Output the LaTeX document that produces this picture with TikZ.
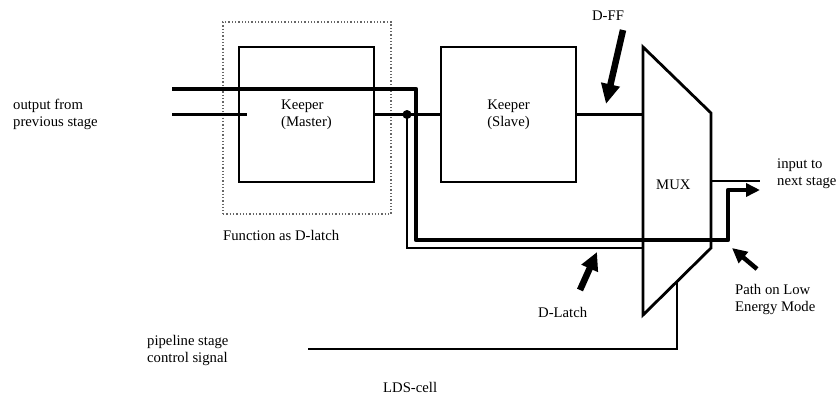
\documentclass[tikz,border=0pt]{standalone}
\usepackage{fontspec}
\setmainfont{Liberation Serif}
\usetikzlibrary{positioning, arrows.meta, calc}

\begin{document}
\begin{tikzpicture}[x=1pt, y=-1pt,
    every node/.style={font=\fontsize{14.7}{17}\selectfont, inner sep=0pt},
    keeper/.style={draw, line width=2.8pt, minimum width=135pt, minimum height=135pt, align=left},
    wire/.style={line width=2.5pt},
    fatwire/.style={line width=4.5pt, line join=round},
    pointer/.style={line width=6.5pt, -{Triangle[width=18pt,length=20pt]}},
    txt/.style={align=left, anchor=west}]
      \useasboundingbox (0,0) rectangle (837,394);

      % D-latch frame
      \node[draw=black!60, dotted, line width=1.3pt, minimum width=168pt, minimum height=192pt] (frame) at (307,118) {};
      \node[txt] (fnlabel) at (223,235) {Function as D-latch};

      % Keeper boxes
      \node[keeper] (master) at (306.5,114.5) {Keeper\\(Master)};
      \node[keeper] (slave) at (508.5,114.5) {Keeper\\(Slave)};

      % MUX
      \coordinate (mtl) at (643,47);
      \coordinate (mtr) at (711,113);
      \coordinate (mbr) at (711,248);
      \coordinate (mbl) at (643,315);
      \draw[wire, line width=2.8pt, line join=miter] (mtl) -- (mtr) -- (mbr) -- (mbl) -- cycle;
      \node[txt] (mux) at (656,185) {MUX};

      % Wires
      \coordinate (thin in) at (172,114.5);
      \coordinate (thin end) at (247,114.5);
      \coordinate (fat in) at (172,89);
      \coordinate (fat out) at (760,190);
      \coordinate (tap) at (407,114.5);
      \coordinate (out end) at (760,181);
      \coordinate (sel in) at (308,349);
      \coordinate (sel) at (677,282);

      \draw[wire] (thin in) -- (thin end);
      \draw[wire] (master.east) -- (slave.west);
      \fill (tap) circle (4.5pt);
      \draw[wire] (tap) |- (643,248);
      \draw[wire] (slave.east) -- (643,114.5);
      \draw[wire] (711,181) -- (out end);
      \draw[wire] (sel in) -| (sel);
      \draw[fatwire, -{Triangle[width=13pt,length=14pt]}] (fat in) -- (416,89) -- (416,240) -- (728,240) -- (728,190) -- (fat out);

      % Pointers
      \coordinate (ff from) at (623,30);
      \coordinate (ff to) at (606,104);
      \draw[pointer] (ff from) -- (ff to);
      \node (dff) at (608,16) {D-FF};

      \coordinate (dl from) at (580,290);
      \coordinate (dl to) at (597,252);
      \draw[pointer, -{Triangle[width=17pt,length=18pt]}] (dl from) -- (dl to);
      \node[txt] (dlatch) at (538,312) {D-Latch};

      \coordinate (le from) at (757,269);
      \coordinate (le to) at (732,248);
      \draw[line width=4.5pt, -{Triangle[width=14pt,length=15pt]}] (le from) -- (le to);
      \node[txt] (lowenergy) at (735,299) {Path on Low\\Energy Mode};

      % Labels
      \node[txt] (prev) at (13,114.5) {output from\\previous stage};
      \node[txt] (next) at (777,174) {input to\\next stage};
      \node[txt] (ctrl) at (147,350) {pipeline stage\\control signal};
      \node[txt] (lds) at (383,387) {LDS-cell};
    \end{tikzpicture}
\end{document}
